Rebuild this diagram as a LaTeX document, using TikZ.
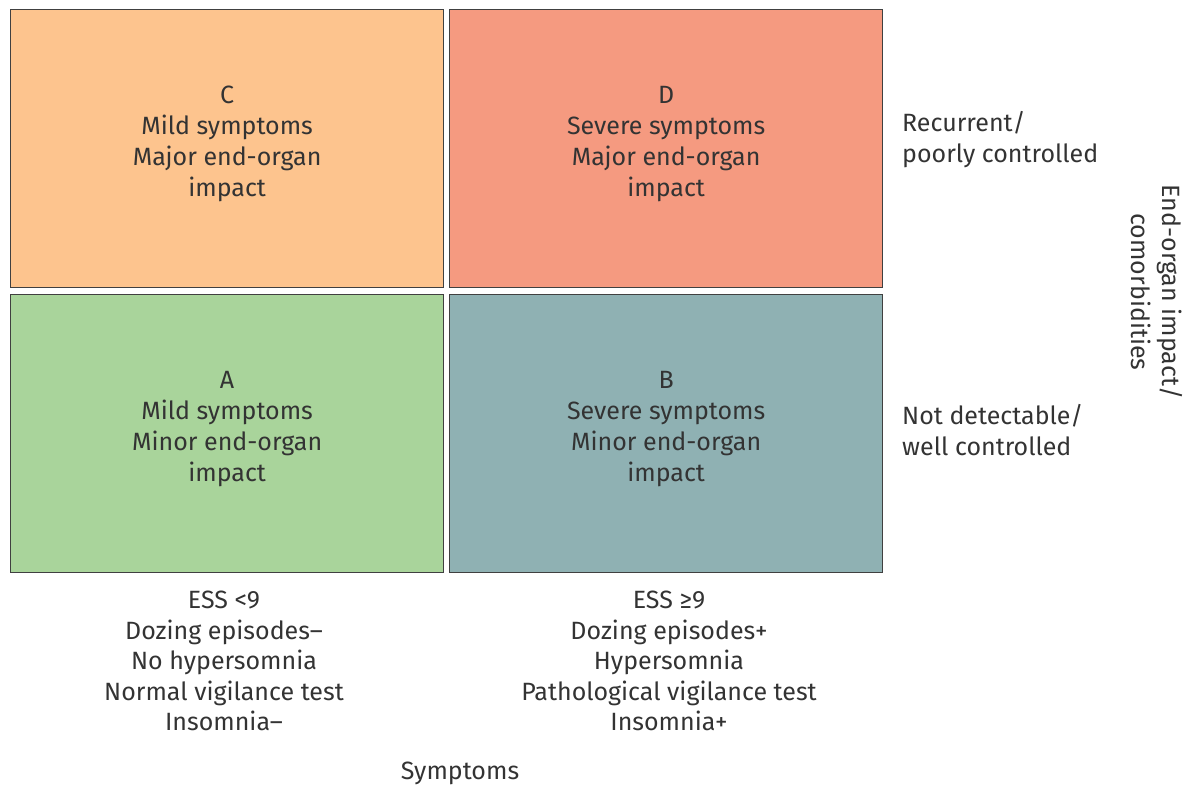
\documentclass[tikz,border=0pt]{standalone}
\usepackage{fontspec}
\setmainfont{Fira Sans}
\begin{document}
\begin{tikzpicture}[x=1pt,y=-1pt,
  quad/.style={draw=black!75,line width=1.3pt,minimum width=433pt,minimum height=278pt,anchor=north west,inner sep=0pt},
  lbl/.style={text=black!80,font=\fontsize{25}{31}\selectfont,inner sep=0pt},
]
\useasboundingbox (0,0) rectangle (1192,787);
\definecolor{cC}{HTML}{FDC48E}
\definecolor{cD}{HTML}{F59A80}
\definecolor{cA}{HTML}{A9D49B}
\definecolor{cB}{HTML}{8FB1B3}
\node[quad,fill=cC] (C) at (10,9) {};
\node[quad,fill=cD] (D) at (449,9) {};
\node[quad,fill=cA] (A) at (10,294) {};
\node[quad,fill=cB] (B) at (449,294) {};
\node[lbl,align=center] (Ct) at ([yshift=5pt]C.center) {C\\Mild symptoms\\Major end-organ\\impact};
\node[lbl,align=center] (Dt) at ([yshift=5pt]D.center) {D\\Severe symptoms\\Major end-organ\\impact};
\node[lbl,align=center] (At) at ([yshift=5pt]A.center) {A\\Mild symptoms\\Minor end-organ\\impact};
\node[lbl,align=center] (Bt) at ([yshift=5pt]B.center) {B\\Severe symptoms\\Minor end-organ\\impact};
\node[lbl,anchor=west,align=left] (top) at (902,140) {Recurrent/\\poorly controlled};
\node[lbl,anchor=west,align=left] (bot) at (902,430) {Not detectable/\\well controlled};
\node[lbl,rotate=-90,align=center] (axisy) at (1157,292) {End-organ impact/\\comorbidities};
\node[lbl,align=center,anchor=north,font=\fontsize{25}{30.5}\selectfont] (left) at (224,591) {ESS <9\\Dozing episodes–\\No hypersomnia\\Normal vigilance test\\Insomnia–};
\node[lbl,align=center,anchor=north,font=\fontsize{25}{30.5}\selectfont] (right) at (669,591) {ESS ≥9\\Dozing episodes+\\Hypersomnia\\Pathological vigilance test\\Insomnia+};
\node[lbl] (axisx) at (460,773) {Symptoms};
\end{tikzpicture}
\end{document}
